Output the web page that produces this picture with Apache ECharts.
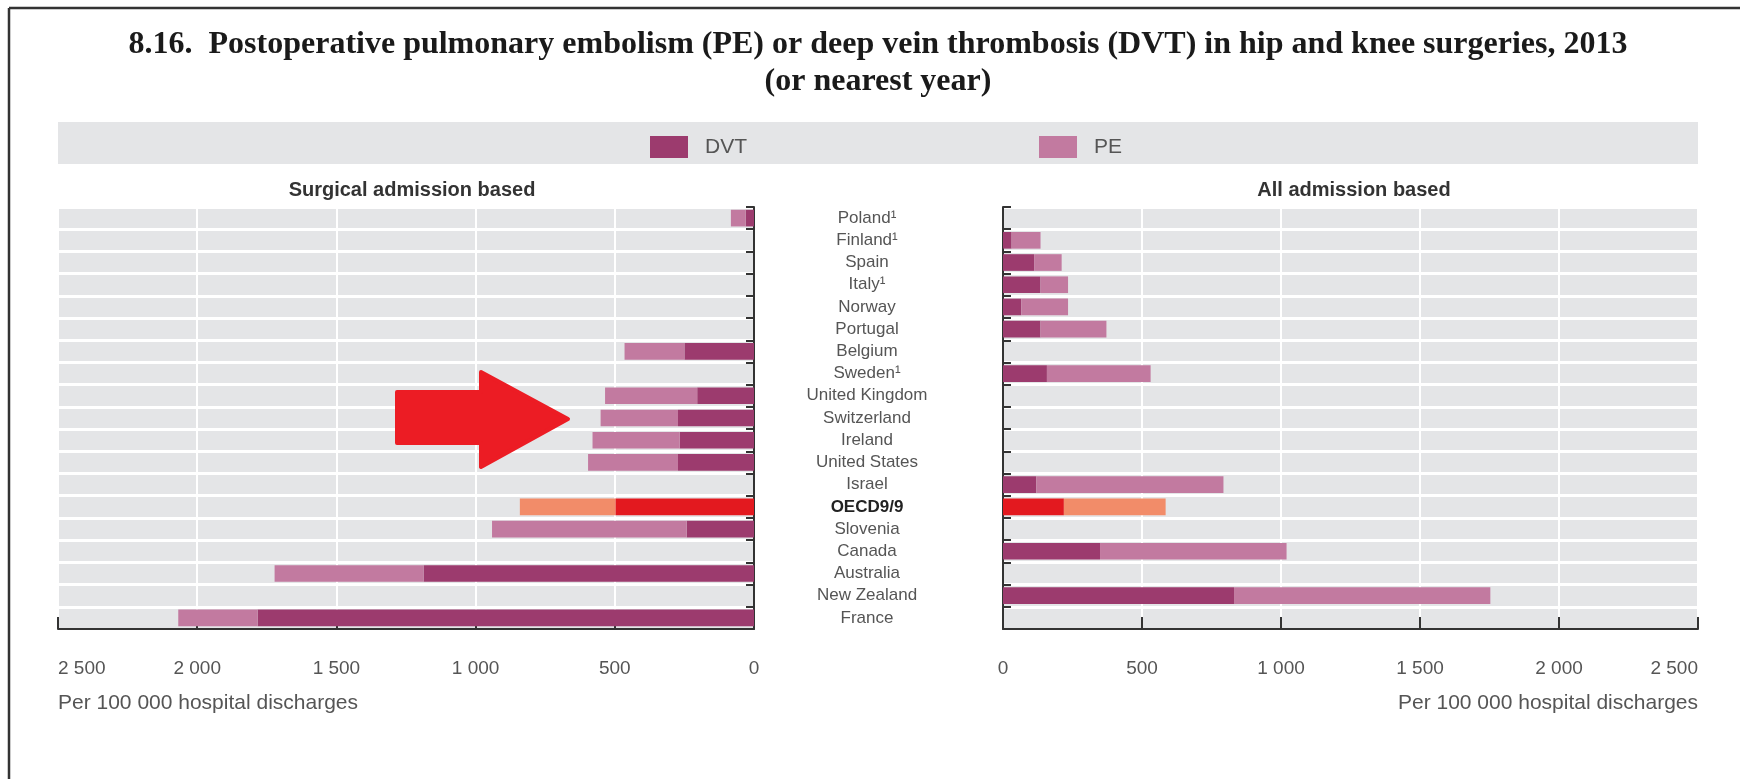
<!DOCTYPE html>
<html><head><meta charset="utf-8">
<script src="https://cdn.jsdelivr.net/npm/echarts@6/dist/echarts.min.js"></script>
<style>html,body{margin:0;padding:0;background:#fff}#c{width:1740px;height:779px}</style>
</head><body><div id="c"></div><script>
// ---- data ----
const titleLines = ['8.16.  Postoperative pulmonary embolism (PE) or deep vein thrombosis (DVT) in hip and knee surgeries, 2013', '(or nearest year)'];
const categories = ['Poland\u00b9','Finland\u00b9','Spain','Italy\u00b9','Norway','Portugal','Belgium','Sweden\u00b9','United Kingdom','Switzerland','Ireland','United States','Israel','OECD9/9','Slovenia','Canada','Australia','New Zealand','France'];
const surgicalDVT = [30, null, null, null, null, null, 250, null, 204, 273, 267, 273, null, 498, 242, null, 1187, null, 1783];
const surgicalPE  = [53, null, null, null, null, null, 215, null, 331, 278, 313, 323, null, 343, 699, null, 535, null, 285];
const allDVT = [null, 31, 112, 135, 66, 135, null, 158, null, null, null, null, 120, 219, null, 349, null, 831, null];
const allPE  = [null, 104, 99, 99, 168, 237, null, 373, null, null, null, null, 673, 366, null, 671, null, 922, null];
const tickValues = [0, 500, 1000, 1500, 2000, 2500];
const seriesNames = ['DVT', 'PE'];
const panelTitles = ['Surgical admission based', 'All admission based'];
const unitNote = 'Per 100 000 hospital discharges';
const OECD = 'OECD9/9';

// ---- styles ----
const SANS = 'Liberation Sans, Arial, sans-serif';
const NARROW = 'Liberation Sans Narrow, Liberation Sans, Arial Narrow, sans-serif';
const SERIF = 'Liberation Serif, serif';
const C_DVT = '#9c3b6e', C_PE = '#c27aa0', C_ODVT = '#e3191f', C_OPE = '#f28c69';
const GRID_BG = '#e4e5e7';

function hl(arr, color) {
  return arr.map((v, i) => (categories[i] === OECD && v != null) ? {value: v, itemStyle: {color: color}} : v);
}
const fmt = v => v >= 1000 ? Math.floor(v / 1000) + ' ' + String(v % 1000).padStart(3, '0') : String(v);

function valueAxis(idx, inverse, alignMax) {
  return {
    type: 'value', gridIndex: idx, inverse: inverse,
    min: tickValues[0], max: tickValues[tickValues.length - 1], interval: tickValues[1] - tickValues[0],
    axisLine: {show: true, lineStyle: {color: '#333', width: 2}},
    axisTick: {show: true, inside: true, length: 12, lineStyle: {color: '#333', width: 2}},
    splitLine: {show: true, lineStyle: {color: '#fff', width: 2}},
    axisLabel: {formatter: fmt, fontFamily: SANS, fontSize: 19, color: '#555', margin: 30, alignMaxLabel: alignMax}
  };
}
function catAxis(idx, pos, showLabel) {
  return {
    type: 'category', gridIndex: idx, data: categories, inverse: true, position: pos,
    axisLine: {show: true, onZero: false, lineStyle: {color: '#333', width: 2}},
    axisTick: {show: true, inside: true, length: 8, interval: 0, lineStyle: {color: '#333', width: 2}},
    splitLine: {show: true, interval: 0, lineStyle: {color: '#fff', width: 3}},
    axisLabel: {
      show: showLabel, interval: 0, align: 'center', margin: 113,
      fontFamily: SANS, fontSize: 17, color: '#555',
      formatter: v => v === OECD ? '{b|' + v + '}' : v,
      rich: {b: {fontFamily: SANS, fontSize: 17, fontWeight: 'bold', color: '#222'}}
    }
  };
}
function barSeries(name, data, xi, stack, color) {
  return {
    type: 'bar', name: name, data: data, xAxisIndex: xi, yAxisIndex: xi, stack: stack,
    barCategoryGap: '25%', itemStyle: {color: color}
  };
}

const titleStyle = {fontFamily: SERIF, fontWeight: 'bold', fontSize: 32, fill: '#1a1a1a', align: 'center', verticalAlign: 'middle'};

const chart = echarts.init(document.getElementById('c'), null, {renderer: 'canvas'});
chart.setOption({
  animation: false,
  legend: [
    {data: [seriesNames[0]], left: 645, top: 131, itemWidth: 38, itemHeight: 22, icon: 'rect', selectedMode: false,
     textStyle: {fontFamily: NARROW, fontSize: 21, color: '#555', padding: [0, 0, 0, 12]}},
    {data: [seriesNames[1]], left: 1034, top: 131, itemWidth: 38, itemHeight: 22, icon: 'rect', selectedMode: false,
     textStyle: {fontFamily: NARROW, fontSize: 21, color: '#555', padding: [0, 0, 0, 12]}}
  ],
  grid: [
    {left: 58, top: 207, width: 696, height: 422, show: true, backgroundColor: GRID_BG, borderWidth: 0},
    {left: 1003, top: 207, width: 695, height: 422, show: true, backgroundColor: GRID_BG, borderWidth: 0}
  ],
  xAxis: [valueAxis(0, true, 'left'), valueAxis(1, false, 'right')],
  yAxis: [catAxis(0, 'right', true), catAxis(1, 'left', false)],
  series: [
    barSeries(seriesNames[0], hl(surgicalDVT, C_ODVT), 0, 'L', C_DVT),
    barSeries(seriesNames[1], hl(surgicalPE, C_OPE), 0, 'L', C_PE),
    barSeries(seriesNames[0], hl(allDVT, C_ODVT), 1, 'R', C_DVT),
    barSeries(seriesNames[1], hl(allPE, C_OPE), 1, 'R', C_PE)
  ],
  graphic: [
    {type: 'line', shape: {x1: 9, y1: 8, x2: 1740, y2: 8}, style: {stroke: '#333', lineWidth: 2.5}},
    {type: 'line', shape: {x1: 9, y1: 8, x2: 9, y2: 779}, style: {stroke: '#333', lineWidth: 2.5}},
    {type: 'text', x: 878, y: 45, style: Object.assign({text: titleLines[0]}, titleStyle)},
    {type: 'text', x: 878, y: 82, style: Object.assign({text: titleLines[1]}, titleStyle)},
    {type: 'rect', z: -1, shape: {x: 58, y: 122, width: 1640, height: 42}, style: {fill: GRID_BG}},
    {type: 'text', x: 412, y: 190, style: {text: panelTitles[0], fontFamily: SANS, fontSize: 20, fontWeight: 'bold', fill: '#333', align: 'center', verticalAlign: 'middle'}},
    {type: 'text', x: 1354, y: 190, style: {text: panelTitles[1], fontFamily: SANS, fontSize: 20, fontWeight: 'bold', fill: '#333', align: 'center', verticalAlign: 'middle'}},
    {type: 'text', x: 58, y: 703, style: {text: unitNote, fontFamily: SANS, fontSize: 21, fill: '#555', align: 'left', verticalAlign: 'middle'}},
    {type: 'text', x: 1698, y: 703, style: {text: unitNote, fontFamily: SANS, fontSize: 21, fill: '#555', align: 'right', verticalAlign: 'middle'}},
    {type: 'polygon', z: 100, shape: {points: [[397, 392], [481, 392], [481, 372], [568, 419], [481, 467], [481, 443], [397, 443]]},
     style: {fill: '#ec1c24', stroke: '#ec1c24', lineWidth: 4, lineJoin: 'round'}}
  ]
});
</script></body></html>
